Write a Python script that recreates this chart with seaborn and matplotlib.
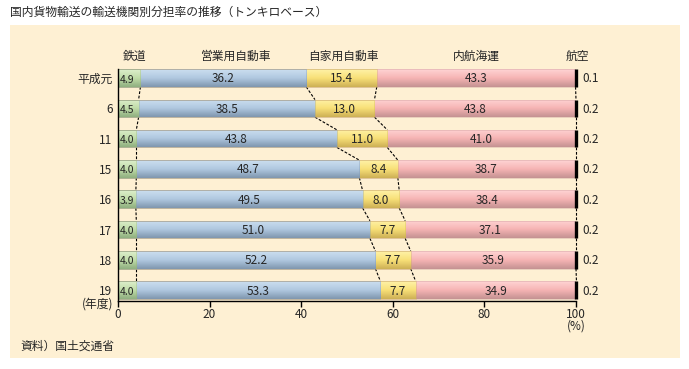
import numpy as np
import pandas as pd
import matplotlib
matplotlib.use("Agg")
import matplotlib.pyplot as plt
from matplotlib.patches import Rectangle
from matplotlib.colors import LinearSegmentedColormap
import seaborn as sns

years = ["平成元", "6", "11", "15", "16", "17", "18", "19"]
rail = [4.9, 4.5, 4.0, 4.0, 3.9, 4.0, 4.0, 4.0]
truck_commercial = [36.2, 38.5, 43.8, 48.7, 49.5, 51.0, 52.2, 53.3]
truck_private = [15.4, 13.0, 11.0, 8.4, 8.0, 7.7, 7.7, 7.7]
coastal = [43.3, 43.8, 41.0, 38.7, 38.4, 37.1, 35.9, 34.9]
air = [0.1, 0.2, 0.2, 0.2, 0.2, 0.2, 0.2, 0.2]
headers = ["鉄道", "営業用自動車", "自家用自動車", "内航海運", "航空"]

sns.set_theme(style="white")
plt.rcParams['font.family'] = ['Noto Sans CJK JP', 'DejaVu Sans']

df = pd.DataFrame({"year": years, "rail": rail, "com": truck_commercial,
                   "priv": truck_private, "coast": coastal, "air": air})
c1 = df["rail"].values
c2 = c1 + df["com"].values
c3 = c2 + df["priv"].values
c4 = c3 + df["coast"].values
c5 = c4 + df["air"].values
df["c1"], df["c2"], df["c3"], df["c4"], df["c5"] = c1, c2, c3, c4, c5

fig = plt.figure(figsize=(6.89, 3.69), dpi=100)
fig.patch.set_facecolor("white")
bg = "#FEF0D3"
fig.patches.append(Rectangle((10/689, 1-358/369), 670/689, 333/369,
                             transform=fig.transFigure, facecolor=bg,
                             edgecolor="none", zorder=-5))
ax = fig.add_axes([118/689, 1-301/369, 458/689, (301-69)/369])
ax.set_facecolor("none")
ax.set_zorder(2)

H = 0.58
# stacked via overlay of cumulative bars
layers = [("c5", "#000000"), ("c4", "#F4B0B0"), ("c3", "#F8E078"),
          ("c2", "#B0C8E0"), ("c1", "#C0DCA8")]
grads = {
    "#F4B0B0": ["#FFD4D4", "#F6B4B4", "#C49292"],
    "#F8E078": ["#FFF2A8", "#F8E078", "#CDB055"],
    "#B0C8E0": ["#CCDFF0", "#B0C8E0", "#7F96AE"],
    "#C0DCA8": ["#DDEFCC", "#C0DCA8", "#8FAF80"],
}
for col, color in layers:
    n_before = len(ax.patches)
    sns.barplot(data=df, y="year", x=col, orient="h", color=color,
                width=H, ax=ax, saturation=1, edgecolor="none",
                linewidth=0, zorder=2)
    if color in grads:
        cmap = LinearSegmentedColormap.from_list("g", grads[color])
        grad = np.linspace(0, 1, 64).reshape(-1, 1)
        for p in ax.patches[n_before:]:
            x0, y0 = p.get_x(), p.get_y()
            w, h = p.get_width(), p.get_height()
            im = ax.imshow(grad, cmap=cmap, aspect="auto",
                           extent=[x0, x0 + w, y0 + h, y0],
                           zorder=2.5, interpolation="bilinear")
            im.set_clip_path(p)
            ax.add_patch(Rectangle((x0, y0), w, h, facecolor="none",
                                   edgecolor=grads[color][2], lw=0.4,
                                   alpha=0.6, zorder=2.6))

n = len(years)
# air share: thin black end segment made visible
ax.vlines(c5, np.arange(n) - H / 2, np.arange(n) + H / 2, color="black",
          lw=2.4, zorder=3, clip_on=False)

ax.set_xlim(0, 100)
ax.set_ylim(7.36, -0.3)

# dashed connectors
for cum in [c1, c2, c3, c5]:
    for i in range(n - 1):
        ax.plot([cum[i], cum[i + 1]], [i + H / 2, i + 1 - H / 2],
                color="black", lw=0.8, ls=(0, (2.5, 1.5)), zorder=1.5,
                clip_on=False)

# value labels
fs = 8.5
for i in range(n):
    ax.text(0.3, i + 0.05, f"{rail[i]:.1f}", ha="left", va="center",
            fontsize=7.5, zorder=4)
    ax.text((c1[i] + c2[i]) / 2, i + 0.03, f"{truck_commercial[i]:.1f}",
            ha="center", va="center", fontsize=fs, zorder=4)
    ax.text((c2[i] + c3[i]) / 2, i + 0.03, f"{truck_private[i]:.1f}",
            ha="center", va="center", fontsize=fs, zorder=4)
    ax.text((c3[i] + c4[i]) / 2, i + 0.03, f"{coastal[i]:.1f}",
            ha="center", va="center", fontsize=fs, zorder=4)
    ax.text(101.5, i + 0.03, f"{air[i]:.1f}", ha="left", va="center",
            fontsize=fs, zorder=4, clip_on=False)

# headers
hx = [3.7, 25.8, 49.3, 78.2, 100.4]
for x, t in zip(hx, headers):
    ax.text(x, -0.72, t, ha="center", va="center", fontsize=fs,
            clip_on=False)

# axes styling
ax.set_xlabel("")
ax.set_ylabel("")
ax.set_xticks([0, 20, 40, 60, 80, 100])
ax.set_xticklabels(["0", "20", "40", "60", "80", "100"], fontsize=fs)
ax.set_yticks(range(n))
ax.set_yticklabels(years, fontsize=fs)
ax.tick_params(axis="x", direction="out", length=4, width=1, color="black",
               pad=1, bottom=True)
ax.tick_params(axis="y", length=0, pad=4)
for s in ["top", "right"]:
    ax.spines[s].set_visible(False)
for s in ["left", "bottom"]:
    ax.spines[s].set_color("black")
    ax.spines[s].set_linewidth(1.0)
    ax.spines[s].set_zorder(5)

ax.text(-1.0, 7.47, "(年度)", ha="right", va="center", fontsize=fs,
        clip_on=False)
ax.text(100, 8.2, "(%)", ha="center", va="center", fontsize=fs,
        clip_on=False)

fig.text(10/689, 1-12/369, "国内貨物輸送の輸送機関別分担率の推移（トンキロベース）",
         ha="left", va="center", fontsize=8.5)
fig.text(20/689, 1-346/369, "資料）国土交通省", ha="left", va="center",
         fontsize=8.5)

fig.savefig("out.png", dpi=100, facecolor="white")
